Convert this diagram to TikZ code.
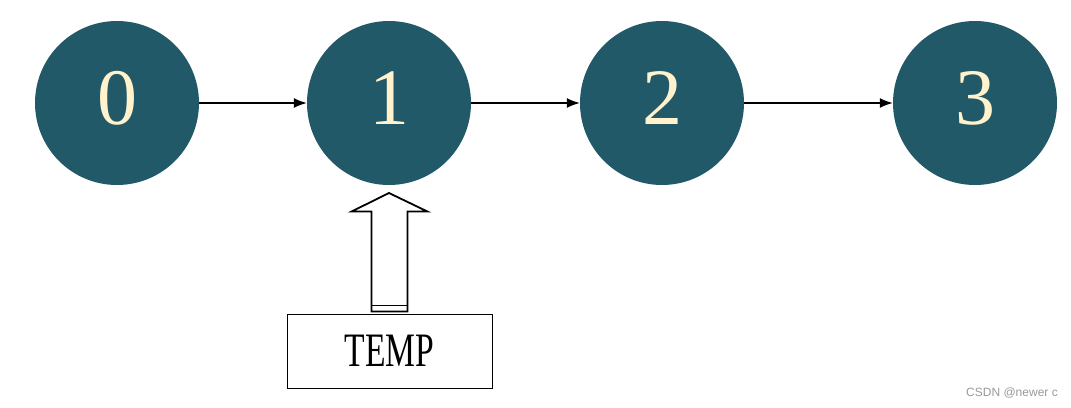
\documentclass[tikz,border=0pt]{standalone}
\usepackage{fontspec}
\setmainfont{Liberation Serif}
\newfontfamily\wmfont{Liberation Sans}
\usetikzlibrary{arrows.meta}
\definecolor{nodeteal}{RGB}{33,89,104}
\definecolor{cream}{RGB}{255,242,204}
\tikzset{
  numnode/.style={circle, fill=nodeteal, draw=none, minimum size=164pt, inner sep=0pt,
    text=cream, font=\fontsize{80}{80}\selectfont, text height=54pt, text depth=11pt},
  link/.style={line width=1.3pt, -{Latex[length=13pt,width=10pt]}},
  tempbox/.style={draw, line width=0.9pt, minimum width=205pt, minimum height=74pt, inner sep=0pt},
  blockarrow/.style={draw, line width=1.8pt, fill=white, line join=miter}
}
\begin{document}
\begin{tikzpicture}[x=1pt,y=-1pt]
\useasboundingbox (0,0) rectangle (1071,407);
\node[numnode] (n0) at (117,103) {0};
\node[numnode] (n1) at (389,103) {1};
\node[numnode] (n2) at (662,103) {2};
\node[numnode] (n3) at (975,103) {3};
\draw[link] (n0) -- (n1);
\draw[link] (n1) -- (n2);
\draw[link] (n2) -- (n3);
\node[tempbox] (temp) at (389.5,351) {\scalebox{0.7}[1]{\fontsize{48}{48}\selectfont TEMP}};
\coordinate (tip) at (389,193);
\draw[blockarrow] ([xshift=-18pt,yshift=2pt]temp.north) -- ([xshift=-18pt,yshift=102pt]temp.north)
  -- ([xshift=-38pt,yshift=102pt]temp.north) -- (tip)
  -- ([xshift=38pt,yshift=102pt]temp.north) -- ([xshift=18pt,yshift=102pt]temp.north)
  -- ([xshift=18pt,yshift=2pt]temp.north) -- cycle;
\draw[line width=1.5pt] ([xshift=-18pt,yshift=8pt]temp.north) -- ([xshift=18pt,yshift=8pt]temp.north);
\node[text=gray!80, font=\wmfont\fontsize{12}{12}\selectfont] (wm) at (1012,393) {CSDN @newer c};
\end{tikzpicture}
\end{document}
